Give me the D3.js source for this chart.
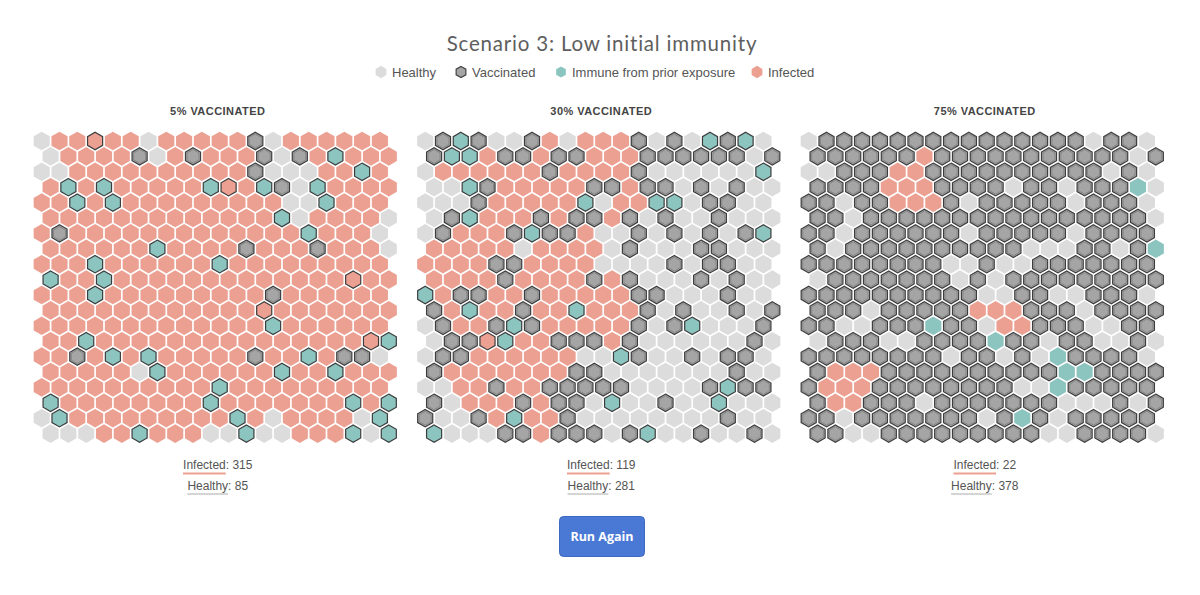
<!DOCTYPE html>
<html><head><meta charset="utf-8">
<script src="https://cdn.jsdelivr.net/npm/d3@7"></script>
<style>
html,body{margin:0;padding:0;background:#fff;}
svg{display:block;}
</style></head>
<body>
<svg id="chart" width="1200" height="595"></svg>
<script>
// ---- data ----
const title = "Scenario 3: Low initial immunity";
const legendLabels = ["Healthy", "Vaccinated", "Immune from prior exposure", "Infected"];
const legendKeys = ["h", "v", "I", "x"];
const panelTitles = ["5% VACCINATED", "30% VACCINATED", "75% VACCINATED"];
const infectedCounts = [315, 119, 22];
const healthyCounts = [85, 281, 378];
// h healthy, v vaccinated, I immune (outlined), i immune, x infected, X infected (outlined)
const grid5 = [
"hxxXxxhxxxxxvhxxxxxx","hxxxxvhxvxxxvhvxIxxx","hhxxxxxxxxxxvhhhxxIx","xIxIxxxxxIXxIvhIxxxx",
"xxIxIxxxxxxxxxhhIxxx","xxxxxxxxxxxxxIhxxxxh","xvxxxxxxxxxxxxxIxxxh","xxxxxxIxxxxvxxxvxxxh",
"xxxIxxxxxxIxxxxxxxxx","IxxIxxxxxxxxxxxxxXxx","xxxIxxxxxxxxxvxxxxxx","xxxxxxxxxxxxXxxxxxxx",
"xxxxxxxxxxxxxIxxxxxx","xxIxxxxxxxxxxxxxxxXI","xxvxIxIxxxxxvxxIxvvh","xxxxxhIxxxxxxIxxIxxx",
"xxxxxxxxxxIxxxxxxxxx","IxxxxxxxxIxxxxxxxIxI","hIxxxxxxxxxIxhxxxxhI","hhhxxIxxxhhIhhxxxIhI"];
const grid30 = [
"hvIvhhvxhxxxvhvhIvIh","vIIxvvxvvxxxvvvvvvhv","hxxxxxxvxxxxvhhhhhhI","hhIvxxxxxvvxvvhvhvhh",
"hhhvxxxxxIhxxIIhvvhh","hvIxxxvxvvxvhvhhvhhh","hvxxxvIvvxhhvhvhvhvI","xxxxxhxxxxhvhhhvvhhh",
"xxxxvvxxxxhhhhvhvvhh","xxxxvxxxxvxvhhhvhvhh","Ixvvxxvxxxxxvvhhhvhh","vxIxxvxxIxxxvhvhhvhv",
"hvxxvIvxxxxxvhvIhhhv","hvvXIxxvvvxvhhhhhhvh","hvvxxxxxxhhIvhhvhvvh","vxxxxxxxvvhhhhhhhvhh",
"hhxxvxxvvvvvhhhhvIvv","vhxxxvxvvhIhhvhhIhhh","vhhvxIxxvhhhhhhhhvhh","IhhhvvxvvvhvIhhvhhvh"];
const grid75 = [
"hvvvvvvvvvvvvvvvhvvh","vvvvvvxvvvvvvvvvvvhv","hhvvvxxvvvvvvvvvvhvh","vvvvxxxvvvvhvvhvvvih",
"vvhvvxxxvhvvvvvhvvvh","vvhvvvvvvvvvvvvvvvvh","vvhvvvvvvhvvvvvhvvvv","vhvvvvvvvvvvhhhvvhvi",
"vvvvvvvvhhvhhvvvvvvv","hvvvvvvvhvhvvvvvvvvv","vvvvvvvvvvhhvvhhvvvh","vvvhvvvvvxxxvvvhvvvv",
"vvhhvvvivvhxxvvvhhvv","hvvvhhvvvvivvhvvhhvh","vvvvvvvvhvvhvhivvvvh","vxxxvvvvvvvvvviivvvv",
"vxxxvvvvvvvvhhivvvvv","vxxvvvhvvvvvvvhhhvhv","vvhvvvvvvvhvivhvvvvv","vvhhvvvvvvvvvhhvvvvh"];
const grids = [grid5, grid30, grid75];

// ---- styles ----
const fills = {h:"#dcdcdc", v:"#a5a5a5", I:"#8cc4bf", i:"#8cc4bf", x:"#eca092", X:"#eca092"};
const outlined = {h:false, v:true, I:true, i:false, x:false, X:true};

const svg = d3.select("#chart");

function hexPath(r){
  const pts = d3.range(6).map(k => {
    const a = Math.PI/180*(60*k - 90);
    return [r*Math.cos(a), r*Math.sin(a)];
  });
  return "M" + pts.map(p => p.join(",")).join("L") + "Z";
}

// title
svg.append("text").attr("x", 602).attr("y", 51).attr("text-anchor","middle")
  .style("font-family","Lato, 'Open Sans', sans-serif").style("font-size","20.5px")
  .style("letter-spacing","0.8px")
  .style("fill","#5e5e5e").text(title);

// legend
const legendX = [381, 461, 561, 757];
const lg = svg.append("g");
legendKeys.forEach((k,i) => {
  const g = lg.append("g").attr("transform", `translate(${legendX[i]},72)`);
  g.append("path").attr("d", hexPath(outlined[k] ? 5.6 : 6.2))
    .attr("fill", fills[k])
    .attr("stroke", outlined[k] && k==="v" ? "#444" : "none").attr("stroke-width", 1.2);
  g.append("text").attr("x", 11).attr("y", 4.6)
    .style("font-family","Arial, 'Liberation Sans', sans-serif").style("font-size","13px")
    .style("fill","#555").text(legendLabels[i]);
});

// panels
const colStep = 17.8, rowStep = 15.4;
const R = 9.3;
grids.forEach((grid, p) => {
  const x0 = 41.7 + 383.5*p;
  const xs = d3.scaleLinear().domain([0, 19]).range([x0, x0 + 19*colStep]);
  const ys = d3.scaleLinear().domain([0, 19]).range([141, 141 + 19*rowStep]);
  const cx = x0 + (19*colStep + colStep/2)/2 + 2.5;

  svg.append("text").attr("x", cx).attr("y", 115).attr("text-anchor","middle")
    .style("font-family","Arial, 'Liberation Sans', sans-serif").style("font-size","11px")
    .style("font-weight","bold").style("letter-spacing","0.45px")
    .style("fill","#444").text(panelTitles[p]);

  const cells = [];
  grid.forEach((row, r) => row.split("").forEach((k, c) => cells.push({r, c, k})));
  const g = svg.append("g");
  const cell = g.selectAll("g").data(cells).join("g")
    .attr("transform", d => `translate(${xs(d.c) + (d.r % 2 ? colStep/2 : 0)},${ys(d.r)})`);
  cell.append("path")
    .attr("d", d => hexPath(outlined[d.k] ? R - 0.6 : R))
    .attr("fill", d => fills[d.k])
    .attr("stroke", d => outlined[d.k] ? "#3d3d3d" : "none")
    .attr("stroke-width", 1.2);
  cell.filter(d => d.k === "v").append("path")
    .attr("d", hexPath(R - 2.4))
    .attr("fill", "none").attr("stroke", "#7a7a7a").attr("stroke-width", 0.7);

  // stats
  const st = svg.append("g").style("font-family","Arial, 'Liberation Sans', sans-serif")
    .style("font-size","12px").style("fill","#555");
  const t1 = st.append("text").attr("x", cx).attr("y", 469).attr("text-anchor","middle");
  t1.append("tspan").attr("class","lab").text("Infected");
  t1.append("tspan").text(": " + infectedCounts[p]);
  const t2 = st.append("text").attr("x", cx).attr("y", 490).attr("text-anchor","middle");
  t2.append("tspan").attr("class","lab").text("Healthy");
  t2.append("tspan").text(": " + healthyCounts[p]);
  [[t1, "#eca092", 473.5], [t2, "#d5d5d5", 494]].forEach(([t, col, y]) => {
    const bb = t.node().getBBox();
    const lw = t.select(".lab").node().getComputedTextLength();
    st.append("line").attr("x1", bb.x).attr("x2", bb.x + lw)
      .attr("y1", y).attr("y2", y).attr("stroke", col).attr("stroke-width", 2);
  });
});

// button
const btn = svg.append("g").attr("transform","translate(559,516)");
btn.append("rect").attr("x",0.5).attr("y",0.5).attr("width",85).attr("height",40).attr("rx",4)
  .attr("fill","#4a78d5").attr("stroke","#3e69c2").attr("stroke-width",1);
btn.append("text").attr("x",43).attr("y",24.5).attr("text-anchor","middle")
  .style("font-family","'Open Sans', Arial, sans-serif").style("font-weight","bold").style("font-size","12.5px")
  .style("fill","#fff").text("Run Again");
</script>
</body></html>
